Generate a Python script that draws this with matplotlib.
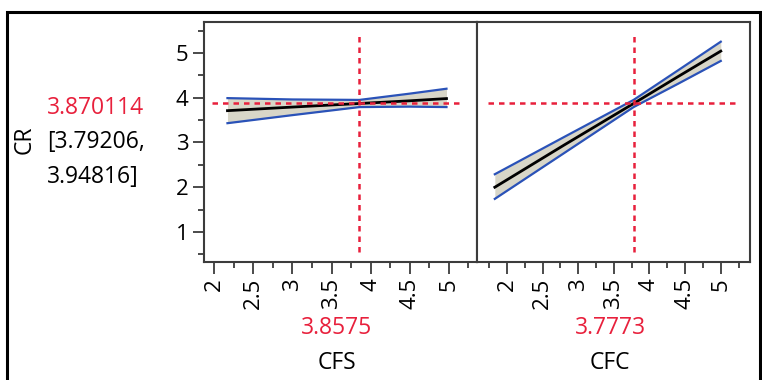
import matplotlib
matplotlib.use('Agg')
import matplotlib.pyplot as plt
from matplotlib.patches import Rectangle
from matplotlib.ticker import MultipleLocator

plt.rcParams['font.family'] = ['Open Sans', 'DejaVu Sans']

# predicted response and its interval
cr_value = 3.870114
cr_ci = [3.79206, 3.94816]

# CFS profile
cfs_now = 3.8575
cfs_x = [2.17, 3.0, 3.8575, 4.5, 4.97]
cfs_pred = [3.71, 3.79, 3.87, 3.93, 3.98]
cfs_hi = [3.99, 3.96, 3.95, 4.09, 4.20]
cfs_lo = [3.43, 3.61, 3.79, 3.80, 3.79]

# CFC profile
cfc_now = 3.7773
cfc_x = [1.83, 2.8, 3.7773, 4.4, 5.0]
cfc_pred = [2.00, 2.94, 3.87, 4.47, 5.04]
cfc_hi = [2.29, 3.12, 3.95, 4.61, 5.25]
cfc_lo = [1.74, 2.76, 3.79, 4.31, 4.82]

xticks = [2, 2.5, 3, 3.5, 4, 4.5, 5]
xticklabels = ['2', '2.5', '3', '3.5', '4', '4.5', '5']
yticks = [1, 2, 3, 4, 5]

red = '#e8203c'
blue = '#2a52b8'
frame = '#3c3c3c'

fig = plt.figure(figsize=(7.62, 3.80), dpi=100)
W, H = 762, 380

ax1 = fig.add_axes([204 / W, 118 / H, 273 / W, 240 / H])
ax2 = fig.add_axes([477 / W, 118 / H, 273 / W, 240 / H])

panels = [
    (ax1, cfs_x, cfs_pred, cfs_hi, cfs_lo, cfs_now, (1.87, 5.36), (0.03, 0.95)),
    (ax2, cfc_x, cfc_pred, cfc_hi, cfc_lo, cfc_now, (1.58, 5.41), (0.04, 0.95)),
]

for ax, x, pred, hi, lo, now, xlim, hspan in panels:
    ax.fill_between(x, lo, hi, color='#d8d6c8', lw=0, zorder=1)
    ax.plot(x, hi, color=blue, lw=1.6, zorder=2)
    ax.plot(x, lo, color=blue, lw=1.6, zorder=2)
    ax.plot(x, pred, color='black', lw=2.0, zorder=3)
    ax.axhline(cr_value, xmin=hspan[0], xmax=hspan[1], color=red, lw=1.8,
               ls=(0, (2.2, 2.0)), zorder=4)
    ax.axvline(now, ymin=0.04, ymax=0.94, color=red, lw=1.8,
               ls=(0, (2.2, 2.0)), zorder=4)
    ax.set_xlim(*xlim)
    ax.set_ylim(0.33, 5.69)
    ax.set_xticks(xticks)
    ax.set_xticklabels(xticklabels, rotation=90, fontsize=16)
    ax.xaxis.set_minor_locator(MultipleLocator(0.25))
    ax.tick_params(axis='x', which='major', length=8.5, width=1.3, color=frame, pad=3)
    ax.tick_params(axis='x', which='minor', length=4.5, width=1.3, color=frame)
    for s in ax.spines.values():
        s.set_color(frame)
        s.set_linewidth(1.5)

ax1.set_yticks(yticks)
ax1.set_yticklabels([str(v) for v in yticks], fontsize=16)
ax1.yaxis.set_minor_locator(MultipleLocator(0.5))
ax1.tick_params(axis='y', which='major', length=8, width=1.3, color=frame, pad=3)
ax1.tick_params(axis='y', which='minor', length=4.5, width=1.3, color=frame)
ax2.set_yticks([])

# texts
fig.text(25 / W, 1 - 140 / H, 'CR', rotation=90, fontsize=16.5, ha='center', va='center')
fig.text(47 / W, 1 - 108 / H, f'{cr_value:.6f}', color=red, fontsize=16.5, ha='left', va='center')
fig.text(47 / W, 1 - 142 / H, f'[{cr_ci[0]:.5f},', fontsize=16.5, ha='left', va='center')
fig.text(47 / W, 1 - 177 / H, f'{cr_ci[1]:.5f}]', fontsize=16.5, ha='left', va='center')

fig.text(337 / W, 1 - 328 / H, f'{cfs_now:.4f}', color=red, fontsize=16.5, ha='center', va='center')
fig.text(337 / W, 1 - 363 / H, 'CFS', fontsize=16.5, ha='center', va='center')
fig.text(610 / W, 1 - 328 / H, f'{cfc_now:.4f}', color=red, fontsize=16.5, ha='center', va='center')
fig.text(610 / W, 1 - 363 / H, 'CFC', fontsize=16.5, ha='center', va='center')

# outer frame
fig.patches.append(Rectangle((7 / W, -0.05), 753 / W, 1 - 12 / H + 0.05,
                             transform=fig.transFigure, fill=False,
                             edgecolor='black', lw=2.2, clip_on=False))

fig.savefig('out.png', dpi=100, facecolor='white')
